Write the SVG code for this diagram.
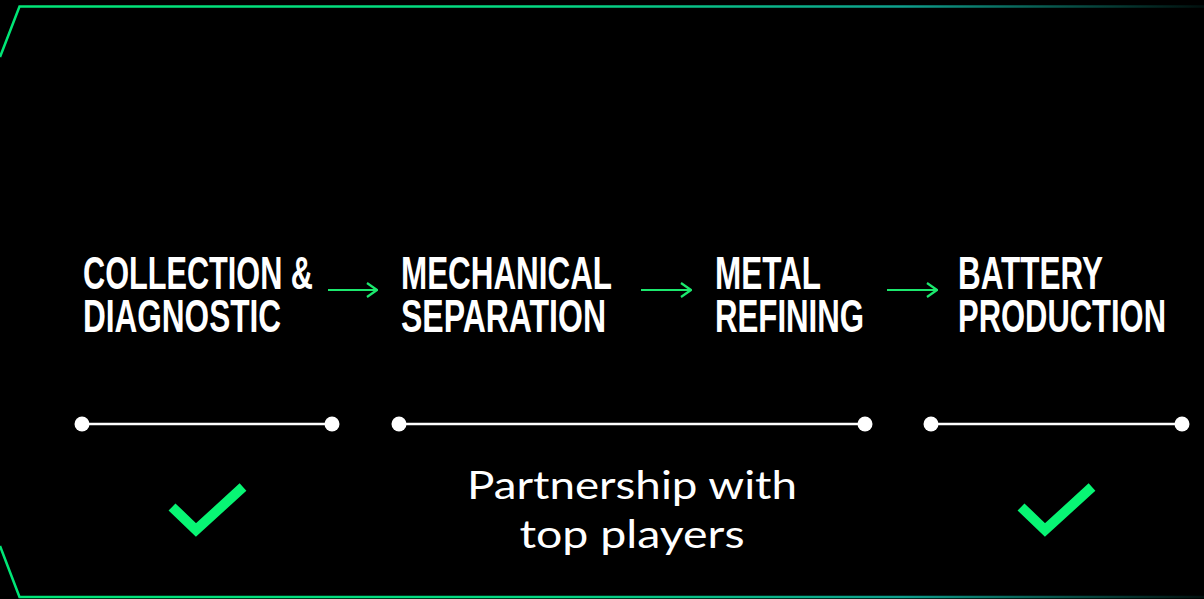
<svg xmlns="http://www.w3.org/2000/svg" width="1204" height="599" viewBox="0 0 1204 599">
  <defs>
    <linearGradient id="frameGrad" gradientUnits="userSpaceOnUse" x1="0" y1="0" x2="1204" y2="0">
      <stop offset="0" stop-color="#00E676"/>
      <stop offset="0.45" stop-color="#04D882"/>
      <stop offset="0.75" stop-color="#0E9E8C"/>
      <stop offset="1" stop-color="#0E9E8C" stop-opacity="0.1"/>
    </linearGradient>
    <marker id="arrowHead" viewBox="0 0 12 16" refX="11" refY="8" markerWidth="12" markerHeight="16" markerUnits="userSpaceOnUse" orient="auto">
      <polyline points="1,1 11,8 1,15" fill="none" stroke="#1CE86E" stroke-width="2.2"/>
    </marker>
    <style>
      .step { font-family: "Liberation Sans", Arial, sans-serif; font-weight: 700; font-size: 47px; fill: #FFFFFF; }
      .note { font-family: "Lato", "Open Sans", "Noto Sans", sans-serif; font-weight: 400; font-size: 38px; fill: #FFFFFF; }
      .arrow { fill: none; stroke: #1CE86E; stroke-width: 2.2; }
      .track { stroke: #FFFFFF; stroke-width: 2.5; }
      .dot { fill: #FFFFFF; }
      .check { fill: none; stroke: #08F574; stroke-width: 10; stroke-linecap: butt; stroke-linejoin: miter; }
      .frame { fill: none; stroke: url(#frameGrad); stroke-width: 2.5; }
    </style>
  </defs>
  <rect x="0" y="0" width="1204" height="599" fill="#000000"/>
  <g id="frame">
    <polyline class="frame" points="0,57 19.5,6.5 1204,6.5"/>
    <polyline class="frame" points="0,546 19.5,597 1204,597"/>
  </g>
  <g id="step-collection">
    <text class="step" transform="translate(83,289) scale(0.66,1)" textLength="348.5" lengthAdjust="spacingAndGlyphs">COLLECTION &amp;</text>
    <text class="step" transform="translate(83,332) scale(0.66,1)" textLength="300" lengthAdjust="spacingAndGlyphs">DIAGNOSTIC</text>
  </g>
  <g id="step-mechanical">
    <text class="step" transform="translate(401,289) scale(0.66,1)" textLength="319.7" lengthAdjust="spacingAndGlyphs">MECHANICAL</text>
    <text class="step" transform="translate(401,332) scale(0.66,1)" textLength="310.6" lengthAdjust="spacingAndGlyphs">SEPARATION</text>
  </g>
  <g id="step-metal">
    <text class="step" transform="translate(715,289) scale(0.66,1)" textLength="160.6" lengthAdjust="spacingAndGlyphs">METAL</text>
    <text class="step" transform="translate(715,332) scale(0.66,1)" textLength="225.8" lengthAdjust="spacingAndGlyphs">REFINING</text>
  </g>
  <g id="step-battery">
    <text class="step" transform="translate(958,289) scale(0.66,1)" textLength="219.7" lengthAdjust="spacingAndGlyphs">BATTERY</text>
    <text class="step" transform="translate(958,332) scale(0.66,1)" textLength="315.2" lengthAdjust="spacingAndGlyphs">PRODUCTION</text>
  </g>
  <g id="connectors">
    <line class="arrow" x1="328" y1="290" x2="377" y2="290" marker-end="url(#arrowHead)"/>
    <line class="arrow" x1="641" y1="290" x2="691" y2="290" marker-end="url(#arrowHead)"/>
    <line class="arrow" x1="887" y1="290" x2="937" y2="290" marker-end="url(#arrowHead)"/>
  </g>
  <g id="track-1">
    <line class="track" x1="82" y1="424" x2="332" y2="424"/>
    <circle class="dot" cx="82" cy="424" r="7.5"/>
    <circle class="dot" cx="332" cy="424" r="7.5"/>
  </g>
  <g id="track-2">
    <line class="track" x1="399" y1="424" x2="865" y2="424"/>
    <circle class="dot" cx="399" cy="424" r="7.5"/>
    <circle class="dot" cx="865" cy="424" r="7.5"/>
  </g>
  <g id="track-3">
    <line class="track" x1="931" y1="424" x2="1182" y2="424"/>
    <circle class="dot" cx="931" cy="424" r="7.5"/>
    <circle class="dot" cx="1182" cy="424" r="7.5"/>
  </g>
  <g id="check-1">
    <polyline class="check" points="172,507 196,530 243,487"/>
  </g>
  <g id="partnership">
    <text class="note" x="632" y="499" text-anchor="middle" textLength="330" lengthAdjust="spacingAndGlyphs">Partnership with</text>
    <text class="note" x="632" y="548" text-anchor="middle" textLength="225" lengthAdjust="spacingAndGlyphs">top players</text>
  </g>
  <g id="check-3">
    <polyline class="check" points="1021,507 1045,530 1092,487"/>
  </g>
</svg>
